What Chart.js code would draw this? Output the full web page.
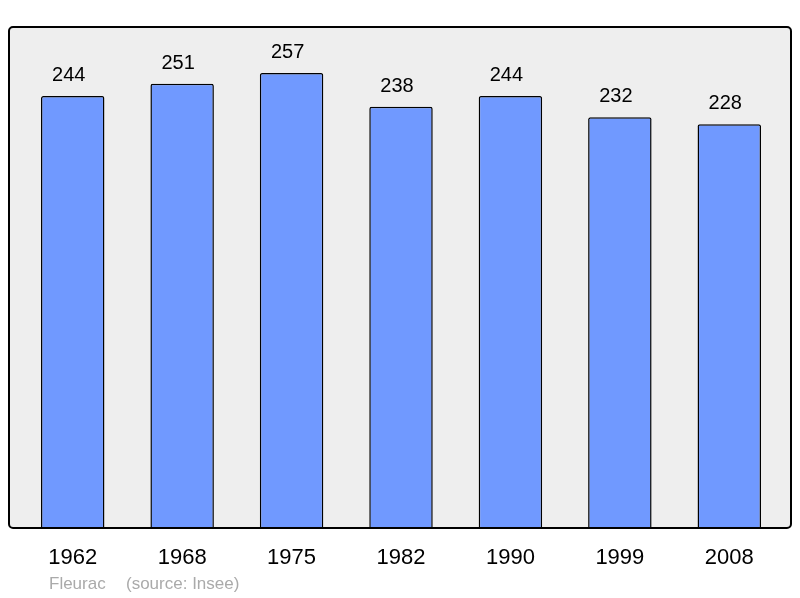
<!DOCTYPE html>
<html lang="fr">
<head>
<meta charset="UTF-8" />
<title>Fleurac - population</title>
<script src="https://cdn.jsdelivr.net/npm/chart.js"></script>
<style>
  html, body { margin: 0; padding: 0; background: #ffffff; }
  #wrap { width: 800px; height: 598px; }
</style>
</head>
<body>
<div id="wrap"><canvas id="grafico" width="800" height="598"></canvas></div>
<script>
const annees = ['1962', '1968', '1975', '1982', '1990', '1999', '2008'];
const population = [244, 251, 257, 238, 244, 232, 228];
const commune = 'Fleurac';
const source = '(source: Insee)';

// cadre gris arrondi + étiquettes dessinées autour des barres
const cadre = {
  id: 'cadre',
  beforeDraw(chart) {
    const ctx = chart.ctx;
    ctx.save();
    ctx.beginPath();
    ctx.roundRect(9, 27, 782, 501, 4);
    ctx.fillStyle = '#eeeeee';
    ctx.fill();
    ctx.restore();
  },
  afterDatasetsDraw(chart) {
    const ctx = chart.ctx;
    const x = chart.scales.x;
    const meta = chart.getDatasetMeta(0);
    ctx.save();
    ctx.beginPath();
    ctx.roundRect(9, 27, 782, 501, 4);
    ctx.lineWidth = 2;
    ctx.strokeStyle = '#000000';
    ctx.stroke();

    ctx.fillStyle = '#000000';
    ctx.textAlign = 'center';
    ctx.textBaseline = 'alphabetic';
    ctx.font = '20px "Liberation Sans", Arial, sans-serif';
    meta.data.forEach((bar, i) => {
      ctx.fillText(String(population[i]), bar.x - 4, bar.y - 15);
    });

    ctx.font = '22px "Liberation Sans", Arial, sans-serif';
    annees.forEach((a, i) => {
      ctx.fillText(a, x.getPixelForValue(i), 564);
    });

    ctx.textAlign = 'left';
    ctx.fillStyle = '#aaaaaa';
    ctx.font = '17px "Liberation Sans", Arial, sans-serif';
    ctx.fillText(commune, 49, 589);
    ctx.fillText(source, 126, 589);
    ctx.restore();
  }
};

new Chart(document.getElementById('grafico'), {
  type: 'bar',
  data: {
    labels: annees,
    datasets: [{
      data: population,
      backgroundColor: '#7099ff',
      borderColor: '#000000',
      borderWidth: 1.5,
      borderRadius: 2,
      borderSkipped: 'start',
      categoryPercentage: 1,
      barPercentage: 0.58
    }]
  },
  options: {
    responsive: false,
    animation: false,
    layout: { padding: { left: 18, right: 16, top: 27, bottom: 70 } },
    plugins: { legend: { display: false }, tooltip: { enabled: false } },
    scales: {
      x: { display: false },
      y: { display: false, min: 0, max: 283 }
    }
  },
  plugins: [cadre]
});
</script>
</body>
</html>
